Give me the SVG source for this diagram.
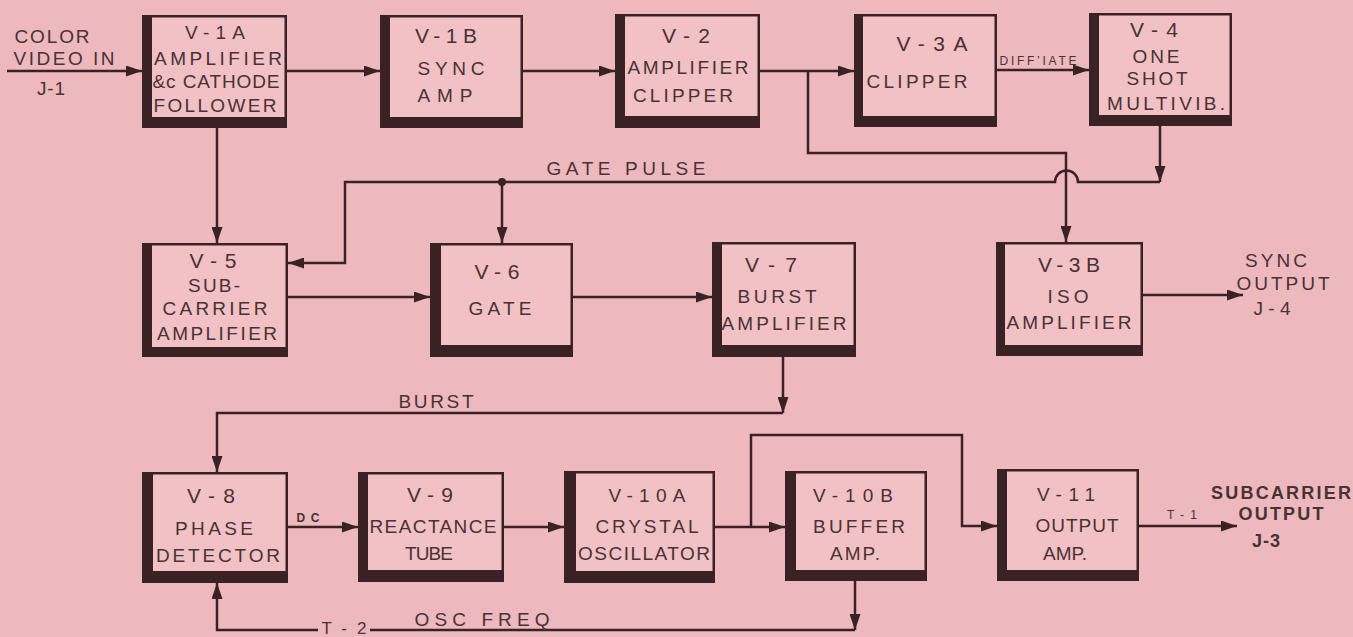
<svg xmlns="http://www.w3.org/2000/svg" width="1353" height="637" viewBox="0 0 1353 637">
<style>
.box{fill:#F1C1C5;stroke:#3a2224;stroke-width:2.5}
.bar{fill:#3a2224}
.wire{fill:none;stroke:#3a2224;stroke-width:2.5}
.arr{marker-end:url(#ah)}
text{font-family:"Liberation Sans",Arial,sans-serif;fill:#4a3233;text-anchor:middle}
.t{font-size:19px}
.tt{font-size:21px}
.ts{font-size:12px}
.b{font-weight:bold}
</style>
<defs>
<marker id="ah" markerUnits="userSpaceOnUse" markerWidth="16" markerHeight="11" refX="16" refY="5.5" orient="auto">
<path d="M0,0 L16,5.5 L0,11 Z" fill="#3a2224"/>
</marker>
</defs>
<rect width="1353" height="637" fill="#EDB8BE"/>

<g id="connectors">
<path class="wire arr" d="M7,71 H142"/>
<path class="wire arr" d="M287,71 H380"/>
<path class="wire arr" d="M523,71 H615"/>
<path class="wire arr" d="M760,71 H854"/>
<path class="wire arr" d="M808,71 V153 H1066 V242"/>
<path class="wire arr" d="M997,70 H1089"/>
<path class="wire arr" d="M1160,126 V182"/>
<path class="wire arr" d="M1160,182 H1078 A11.5,11.5 0 0 0 1055,182 H345 V263 H288"/>
<path class="wire arr" d="M502,182 V243"/>
<circle cx="502" cy="182" r="4" fill="#3a2224"/>
<path class="wire arr" d="M217,128 V243"/>
<path class="wire arr" d="M288,297 H430"/>
<path class="wire arr" d="M573,297 H712"/>
<path class="wire arr" d="M1143,295 H1243"/>
<path class="wire arr" d="M783,357 V413"/>
<path class="wire arr" d="M783,413 H217 V472"/>
<path class="wire arr" d="M288,527 H358"/>
<path class="wire arr" d="M504,527 H564"/>
<path class="wire arr" d="M715,527 H785"/>
<path class="wire arr" d="M751,527 V435 H962 V526 H997"/>
<path class="wire arr" d="M1139,526 H1237"/>
<path class="wire arr" d="M855,581 V630"/>
<path class="wire" d="M855,630 H370"/>
<path class="wire arr" d="M318,630 H217 V583"/>
<text class="ts" x="1038" y="65" textLength="77">DIFF’IATE</text>
<text class="t" x="626" y="175" textLength="159">GATE  PULSE</text>
<text class="t" x="436" y="408" textLength="75">BURST</text>
<text class="ts b" x="308" y="522" textLength="23">DC</text>
<text class="t" x="344" y="634" textLength="45" style="font-size:17px">T-2</text>
<text class="t" x="482" y="626" textLength="135">OSC  FREQ</text>
<text class="ts" x="1182" y="519" textLength="30">T-1</text>
</g>

<g id="input">
<text class="t" x="52" y="43" textLength="75">COLOR</text>
<text class="t" x="64" y="65" textLength="101">VIDEO IN</text>
<text class="t" x="51" y="95" textLength="28">J-1</text>
</g>

<g id="v1a">
<rect class="box" x="143.25" y="16.25" width="142.5" height="110.5"/>
<path class="bar" d="M142,15 H152 V117 H287 V128 H142 Z"/>
<text class="t" x="215" y="39" textLength="60">V-1A</text>
<text class="t" x="218" y="65" textLength="128">AMPLIFIER</text>
<text class="t" x="216" y="88" textLength="127">&amp;c CATHODE</text>
<text class="t" x="215" y="112" textLength="123">FOLLOWER</text>
</g>

<g id="v1b">
<rect class="box" x="381.25" y="16.25" width="140.5" height="110.5"/>
<path class="bar" d="M380,15 H390 V117 H523 V128 H380 Z"/>
<text class="tt" x="446" y="43" textLength="62">V-1B</text>
<text class="t" x="451" y="75" textLength="67">SYNC</text>
<text class="t" x="445" y="102" textLength="55">AMP</text>
</g>

<g id="v2">
<rect class="box" x="616.25" y="15.25" width="142.5" height="111.5"/>
<path class="bar" d="M615,14 H625 V116 H760 V128 H615 Z"/>
<text class="tt" x="686" y="43" textLength="48">V-2</text>
<text class="t" x="688" y="74" textLength="121">AMPLIFIER</text>
<text class="t" x="683" y="102" textLength="100">CLIPPER</text>
</g>

<g id="v3a">
<rect class="box" x="855.25" y="15.25" width="140.5" height="110.5"/>
<path class="bar" d="M854,14 H863 V116 H997 V127 H854 Z"/>
<text class="tt" x="932" y="51" textLength="71">V-3A</text>
<text class="t" x="917" y="88" textLength="101">CLIPPER</text>
</g>

<g id="v4">
<rect class="box" x="1090.25" y="14.25" width="140.5" height="110.5"/>
<path class="bar" d="M1089,13 H1099 V115 H1232 V126 H1089 Z"/>
<text class="tt" x="1154" y="37" textLength="48">V-4</text>
<text class="t" x="1156" y="63" textLength="47">ONE</text>
<text class="t" x="1157" y="85" textLength="61">SHOT</text>
<text class="t" x="1166" y="110" textLength="118">MULTIVIB.</text>
</g>

<g id="v5">
<rect class="box" x="143.25" y="244.25" width="143.5" height="111.5"/>
<path class="bar" d="M142,243 H152 V347 H288 V357 H142 Z"/>
<text class="tt" x="213" y="268" textLength="47">V-5</text>
<text class="t" x="214" y="292" textLength="52">SUB-</text>
<text class="t" x="215" y="315" textLength="105">CARRIER</text>
<text class="t" x="217" y="340" textLength="120">AMPLIFIER</text>
</g>

<g id="v6">
<rect class="box" x="431.25" y="244.25" width="140.5" height="111.5"/>
<path class="bar" d="M430,243 H441 V345 H573 V357 H430 Z"/>
<text class="tt" x="497" y="279" textLength="45">V-6</text>
<text class="t" x="500" y="315" textLength="63">GATE</text>
</g>

<g id="v7">
<rect class="box" x="713.25" y="243.25" width="141.5" height="112.5"/>
<path class="bar" d="M712,242 H722 V345 H856 V357 H712 Z"/>
<text class="tt" x="771" y="272" textLength="52">V-7</text>
<text class="t" x="777" y="303" textLength="79">BURST</text>
<text class="t" x="784" y="330" textLength="125">AMPLIFIER</text>
</g>

<g id="v3b">
<rect class="box" x="997.25" y="243.25" width="144.5" height="111.5"/>
<path class="bar" d="M996,242 H1005 V345 H1143 V356 H996 Z"/>
<text class="tt" x="1069" y="272" textLength="62">V-3B</text>
<text class="t" x="1068" y="303" textLength="41">ISO</text>
<text class="t" x="1069" y="329" textLength="125">AMPLIFIER</text>
</g>

<g id="sync-out">
<text class="t" x="1276" y="267" textLength="62">SYNC</text>
<text class="t" x="1283" y="290" textLength="93">OUTPUT</text>
<text class="t" x="1272" y="315" textLength="37">J-4</text>
</g>

<g id="v8">
<rect class="box" x="143.25" y="473.25" width="143.5" height="108.5"/>
<path class="bar" d="M142,472 H153 V571 H288 V583 H142 Z"/>
<text class="tt" x="211" y="503" textLength="48">V-8</text>
<text class="t" x="214" y="535" textLength="78">PHASE</text>
<text class="t" x="218" y="562" textLength="124">DETECTOR</text>
</g>

<g id="v9">
<rect class="box" x="359.25" y="473.25" width="143.5" height="107.5"/>
<path class="bar" d="M358,472 H368 V570 H504 V582 H358 Z"/>
<text class="tt" x="430" y="502" textLength="46">V-9</text>
<text class="t" x="433" y="533" textLength="127">REACTANCE</text>
<text class="t" x="429" y="560" textLength="48">TUBE</text>
</g>

<g id="v10a">
<rect class="box" x="565.25" y="472.25" width="148.5" height="109.5"/>
<path class="bar" d="M564,471 H576 V571 H715 V583 H564 Z"/>
<text class="t" x="647" y="502" textLength="77">V-10A</text>
<text class="t" x="647" y="533" textLength="103">CRYSTAL</text>
<text class="t" x="644" y="560" textLength="132">OSCILLATOR</text>
</g>

<g id="v10b">
<rect class="box" x="786.25" y="472.25" width="139.5" height="107.5"/>
<path class="bar" d="M785,471 H796 V570 H927 V581 H785 Z"/>
<text class="t" x="853" y="502" textLength="80">V-10B</text>
<text class="t" x="859" y="533" textLength="92">BUFFER</text>
<text class="t" x="855" y="560" textLength="50">AMP.</text>
</g>

<g id="v11">
<rect class="box" x="998.25" y="470.25" width="139.5" height="109.5"/>
<path class="bar" d="M997,469 H1007 V570 H1139 V581 H997 Z"/>
<text class="t" x="1066" y="501" textLength="58">V-11</text>
<text class="t" x="1077" y="532" textLength="83">OUTPUT</text>
<text class="t" x="1065" y="560" textLength="44">AMP.</text>
</g>

<g id="subcarrier-out">
<text class="t b" x="1281" y="499" textLength="140" style="font-size:18px">SUBCARRIER</text>
<text class="t b" x="1281" y="520" textLength="85" style="font-size:18px">OUTPUT</text>
<text class="t b" x="1266" y="547" textLength="28" style="font-size:18px">J-3</text>
</g>
</svg>
